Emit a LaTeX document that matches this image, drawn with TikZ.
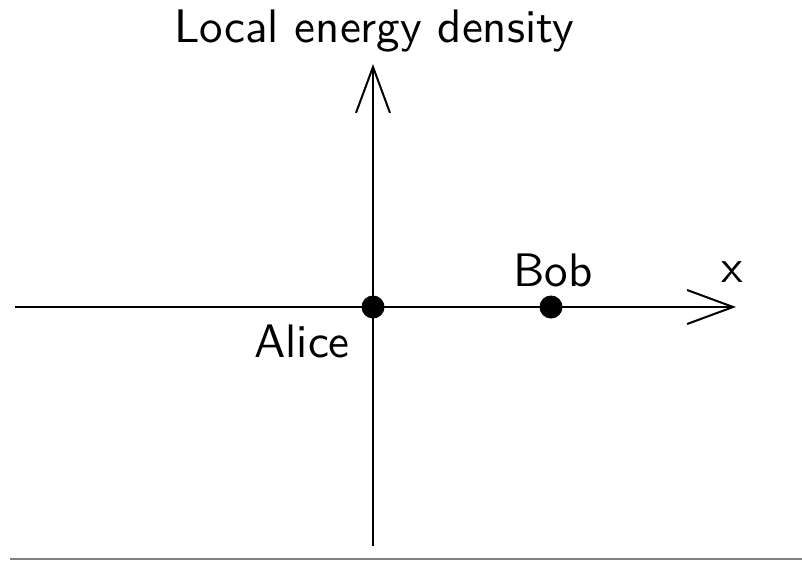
\documentclass[tikz,border=0pt]{standalone}
\usepackage{fontspec}
\newfontfamily\labfont{lmsans10-regular.otf}
\usetikzlibrary{arrows.meta}
\begin{document}
\begin{tikzpicture}[x=1pt,y=-1pt,
  axis/.style={line width=2pt, -{Straight Barb[length=46pt,width=34pt,line width=2pt]}},
  lbl/.style={font=\labfont\fontsize{47}{50}\selectfont, inner sep=0pt},
  dot/.style={circle, fill=black, minimum size=23pt, inner sep=0pt}]
\useasboundingbox (0,0) rectangle (802,560);
\fill[white] (0,0) rectangle (802,560);
\coordinate (xl) at (15,307);
\coordinate (xr) at (736,307);
\coordinate (yb) at (373,546);
\coordinate (yt) at (373,64);
\draw[axis] (xl) -- (xr);
\draw[axis] (yb) -- (yt);
\node[dot] (alice) at (373,307) {};
\node[dot] (bob) at (551,307) {};
\node[lbl, anchor=base] (ylab) at (374,42) {Local energy density};
\node[lbl, anchor=base] (xlab) at (732,282) {x};
\node[lbl, anchor=base] (boblab) at (553,286) {Bob};
\node[lbl, anchor=base] (alicelab) at (302,357) {Alice};
\coordinate (bl) at (10,559);
\coordinate (br) at (802,559);
\draw[line width=1.5pt, gray] (bl) -- (br);
\end{tikzpicture}
\end{document}
